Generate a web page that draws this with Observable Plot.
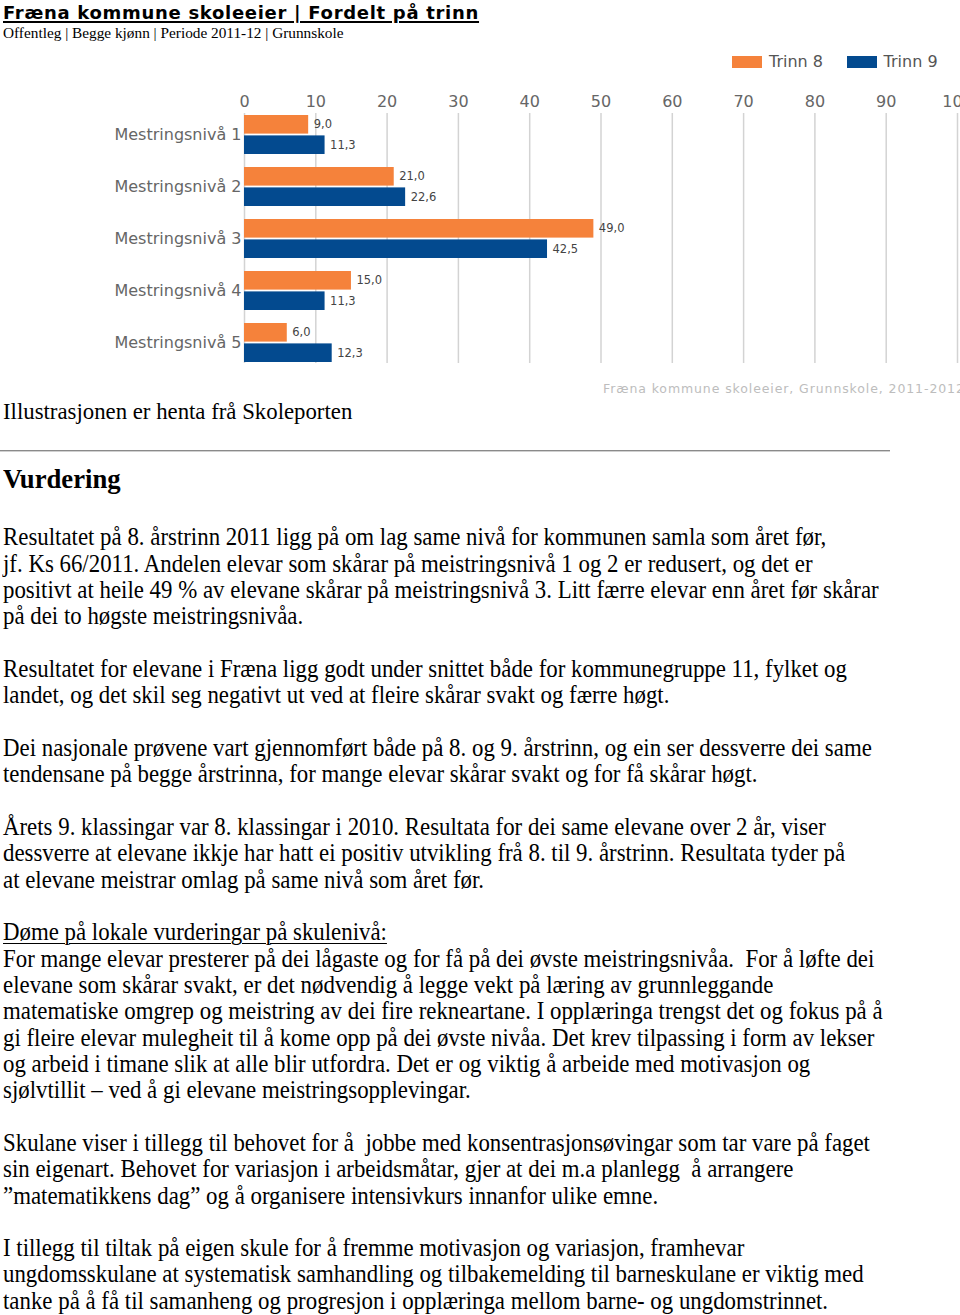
<!DOCTYPE html>
<html>
<head>
<meta charset="utf-8">
<script src="https://cdn.jsdelivr.net/npm/d3@7"></script>
<script src="https://cdn.jsdelivr.net/npm/@observablehq/plot@0.6"></script>
<style>
html, body { margin: 0; padding: 0; background: #fff; width: 960px; height: 1315px; overflow: hidden; }
.abs { position: absolute; white-space: pre; }
#title { left: 3px; top: 4px; font: bold 18px/18px "DejaVu Sans", sans-serif; letter-spacing: 0.7px; color: #000;
  text-decoration: underline; text-decoration-thickness: 2px; text-underline-offset: 2px; }
#subtitle { left: 3px; top: 24.5px; font: 15.3px/15.3px "Liberation Serif", serif; color: #000; }
#legend { left: 732px; top: 53.7px; display: flex; font: 16px/16px "DejaVu Sans", sans-serif; color: #555; }
#legend .item { display: flex; align-items: center; margin-right: 23.6px; }
#legend .sw { width: 30px; height: 12px; margin-right: 7px; }
#chart { left: 0; top: 60px; }
#source { left: 603px; top: 383px; width: 357px; overflow: hidden; font: 12.5px/12.5px "DejaVu Sans", sans-serif; letter-spacing: 0.9px; color: #bdbdbd; }
#illu { left: 3px; top: 400px; font: 23.7px/23.7px "Liberation Serif", serif; transform: scaleX(0.962); transform-origin: 0 0; }
#hr { left: 0; top: 450px; width: 890px; height: 0; border-top: 1px solid #8a8a8a; border-bottom: 1px solid #d0d0d0; }
#vurd { left: 3px; top: 464.8px; font: bold 27.7px/27.7px "Liberation Serif", serif; transform: scaleX(0.964); transform-origin: 0 0; }
#body { left: 3px; top: 524.3px; font: 24.4px/26.34px "Liberation Serif", serif; transform: scaleX(0.937); transform-origin: 0 0; color: #000; }
#body .ln { height: 26.34px; white-space: pre; }
#body .u { text-decoration: underline; text-decoration-thickness: 1px; text-underline-offset: 3px; }
</style>
</head>
<body>
<div id="title" class="abs">Fræna kommune skoleeier | Fordelt på trinn</div>
<div id="subtitle" class="abs">Offentleg | Begge kjønn | Periode 2011-12 | Grunnskole</div>
<div id="legend" class="abs"></div>
<div id="chart" class="abs"></div>
<div id="source" class="abs">Fræna kommune skoleeier, Grunnskole, 2011-2012</div>
<div id="illu" class="abs">Illustrasjonen er henta frå Skoleporten</div>
<div id="hr" class="abs"></div>
<div id="vurd" class="abs">Vurdering</div>
<div id="body" class="abs"></div>
<script>
// ---- chart data ----
const levels = ["Mestringsnivå 1", "Mestringsnivå 2", "Mestringsnivå 3", "Mestringsnivå 4", "Mestringsnivå 5"];
const series = ["Trinn 8", "Trinn 9"];
const trinn8 = [9.0, 21.0, 49.0, 15.0, 6.0];
const trinn9 = [11.3, 22.6, 42.5, 11.3, 12.3];
const xTicks = [0, 10, 20, 30, 40, 50, 60, 70, 80, 90, 100];
const colors = ["#f5823b", "#034a8f"];

const rows8 = levels.map((l, i) => ({level: l, trinn: series[0], value: trinn8[i]}));
const rows9 = levels.map((l, i) => ({level: l, trinn: series[1], value: trinn9[i]}));
const fmt = v => d3.format(".1f")(v).replace(".", ",");

// legend
const lg = d3.select("#legend");
series.forEach((s, i) => {
  const it = lg.append("div").attr("class", "item");
  it.append("div").attr("class", "sw").style("background", colors[i]);
  it.append("span").text(s);
});

const chart = Plot.plot({
  width: 960,
  height: 310,
  marginTop: 53,
  marginBottom: 7,
  marginLeft: 244,
  marginRight: 3,
  style: {fontFamily: "'DejaVu Sans', sans-serif", fontSize: "16px", color: "#666", background: "transparent", overflow: "visible"},
  x: {domain: [0, 100], axis: "top", ticks: xTicks, tickSize: 0, tickPadding: 7, label: null},
  y: {domain: levels, paddingInner: 0.25, paddingOuter: 0.02, tickSize: 0, tickPadding: 3, label: null},
  color: {domain: series, range: colors},
  marks: [
    Plot.ruleX(xTicks, {stroke: "#d3d3d3", strokeWidth: 1.5}),
    Plot.barX(rows8, {x: "value", y: "level", fill: "trinn", insetBottom: 20.4}),
    Plot.barX(rows9, {x: "value", y: "level", fill: "trinn", insetTop: 20.4}),
    Plot.text(rows8, {x: "value", y: "level", text: d => fmt(d.value), dx: 5, dy: -10.3, textAnchor: "start", fontSize: 11.5, fill: "#444"}),
    Plot.text(rows9, {x: "value", y: "level", text: d => fmt(d.value), dx: 5, dy: 10.3, textAnchor: "start", fontSize: 11.5, fill: "#444"})
  ]
});
document.getElementById("chart").appendChild(chart);

// ---- body text ----
const bodyLines = [
  "Resultatet på 8. årstrinn 2011 ligg på om lag same nivå for kommunen samla som året før,",
  "jf. Ks 66/2011. Andelen elevar som skårar på meistringsnivå 1 og 2 er redusert, og det er",
  "positivt at heile 49 % av elevane skårar på meistringsnivå 3. Litt færre elevar enn året før skårar",
  "på dei to høgste meistringsnivåa.",
  "",
  "Resultatet for elevane i Fræna ligg godt under snittet både for kommunegruppe 11, fylket og",
  "landet, og det skil seg negativt ut ved at fleire skårar svakt og færre høgt.",
  "",
  "Dei nasjonale prøvene vart gjennomført både på 8. og 9. årstrinn, og ein ser dessverre dei same",
  "tendensane på begge årstrinna, for mange elevar skårar svakt og for få skårar høgt.",
  "",
  "Årets 9. klassingar var 8. klassingar i 2010. Resultata for dei same elevane over 2 år, viser",
  "dessverre at elevane ikkje har hatt ei positiv utvikling frå 8. til 9. årstrinn. Resultata tyder på",
  "at elevane meistrar omlag på same nivå som året før.",
  "",
  "§Døme på lokale vurderingar på skulenivå:",
  "For mange elevar presterer på dei lågaste og for få på dei øvste meistringsnivåa.  For å løfte dei",
  "elevane som skårar svakt, er det nødvendig å legge vekt på læring av grunnleggande",
  "matematiske omgrep og meistring av dei fire rekneartane. I opplæringa trengst det og fokus på å",
  "gi fleire elevar mulegheit til å kome opp på dei øvste nivåa. Det krev tilpassing i form av lekser",
  "og arbeid i timane slik at alle blir utfordra. Det er og viktig å arbeide med motivasjon og",
  "sjølvtillit – ved å gi elevane meistringsopplevingar.",
  "",
  "Skulane viser i tillegg til behovet for å  jobbe med konsentrasjonsøvingar som tar vare på faget",
  "sin eigenart. Behovet for variasjon i arbeidsmåtar, gjer at dei m.a planlegg  å arrangere",
  "”matematikkens dag” og å organisere intensivkurs innanfor ulike emne.",
  "",
  "I tillegg til tiltak på eigen skule for å fremme motivasjon og variasjon, framhevar",
  "ungdomsskulane at systematisk samhandling og tilbakemelding til barneskulane er viktig med",
  "tanke på å få til samanheng og progresjon i opplæringa mellom barne- og ungdomstrinnet."
];
const body = d3.select("#body");
bodyLines.forEach(t => {
  const ln = body.append("div").attr("class", "ln");
  if (t.startsWith("§")) ln.append("span").attr("class", "u").text(t.slice(1));
  else ln.text(t);
});
</script>
</body>
</html>
